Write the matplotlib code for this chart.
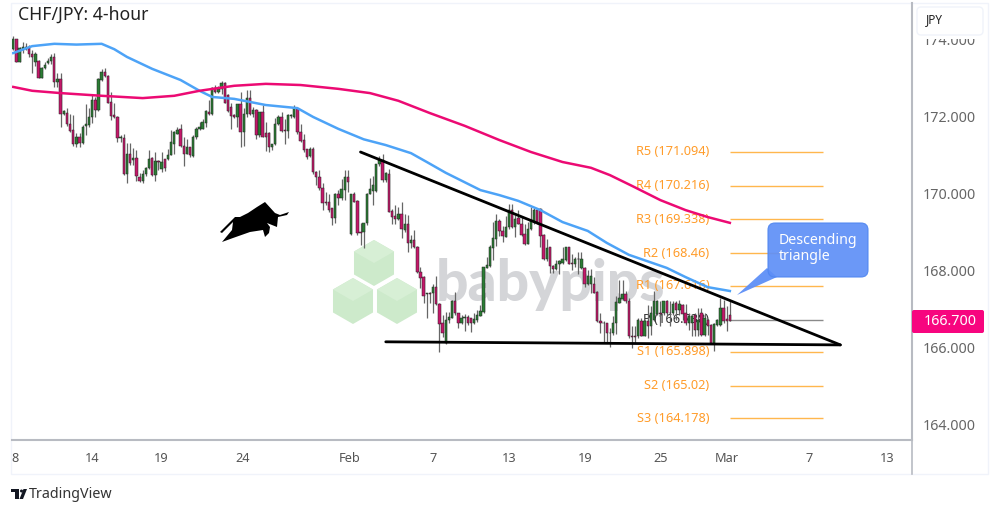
import matplotlib
matplotlib.use('Agg')
import matplotlib.pyplot as plt
from matplotlib.patches import FancyBboxPatch, Polygon, Rectangle, Circle

# 4-hour bars
opens = [173.77,174.03,173.44,173.76,173.77,173.81,173.64,173.44,173.45,173.02,
         173.26,173.39,173.45,173.55,172.92,172.98,172.07,172.11,171.81,171.66,
         171.30,171.49,171.32,171.77,171.79,172.01,172.44,172.18,172.96,173.16,
         173.07,172.40,172.05,172.00,171.45,171.45,170.51,171.04,170.87,170.94,
         170.45,170.34,170.51,170.67,170.94,170.49,170.86,170.65,170.91,170.92,
         171.01,171.31,171.57,171.68,171.25,171.05,171.21,170.99,171.47,171.69,
         171.70,171.85,172.14,172.07,172.74,172.64,172.73,172.87,172.57,172.27,
         172.05,172.01,172.33,171.62,172.07,172.48,172.09,172.18,171.53,172.12,
         171.59,171.59,171.23,171.29,171.83,172.01,171.66,171.63,172.02,172.01,
         172.21,171.62,171.40,171.16,170.99,171.18,170.58,170.45,170.16,169.78,
         169.78,169.63,169.37,170.00,169.89,170.10,170.45,168.95,170.00,169.82,
         169.02,169.02,169.24,170.00,170.08,170.08,170.78,170.88,170.36,170.52,
         169.56,169.43,169.35,169.49,169.06,169.21,168.72,168.80,168.63,167.98,
         167.85,167.39,167.43,167.42,167.59,167.14,166.64,166.13,166.72,166.78,
         167.22,166.90,166.64,166.77,166.81,166.77,166.64,166.72,166.84,166.94,
         168.09,168.13,168.60,168.84,169.29,169.03,168.89,169.13,169.58,169.13,
         169.38,169.23,168.95,168.71,169.08,169.28,169.58,169.62,168.93,168.30,
         168.61,168.13,168.06,168.17,168.21,168.28,168.63,168.21,168.18,168.30,
         168.08,168.08,167.66,167.65,167.67,167.46,166.70,166.66,166.64,166.38,
         166.40,166.64,167.18,167.27,167.41,167.23,166.32,166.32,166.30,166.71,
         166.32,166.69,166.56,166.73,166.88,166.92,166.90,167.21,166.92,166.90,
         167.18,166.99,167.12,166.92,166.64,166.64,166.86,166.47,166.90,166.34,
         166.73,166.60,166.12,166.60,166.60,167.03,166.75,166.86]
closes = [174.03,173.44,173.78,173.81,173.81,173.64,173.57,173.64,173.02,173.28,
          173.35,173.46,173.55,172.92,172.98,172.08,172.16,171.81,171.64,171.30,
          171.49,171.32,171.75,171.82,172.01,172.44,172.18,172.99,173.18,173.07,
          172.37,172.03,172.00,171.45,171.49,170.51,171.04,170.81,170.94,170.47,
          170.34,170.51,170.67,170.92,170.49,170.86,170.82,170.84,170.67,171.01,
          171.34,171.60,171.66,171.25,171.05,171.21,171.00,171.47,171.70,171.75,
          171.86,172.15,172.07,172.76,172.66,172.73,172.87,172.35,172.15,172.03,
          172.01,172.33,171.62,172.07,172.48,172.09,172.18,171.53,172.12,171.49,
          171.49,171.23,171.31,171.83,172.01,171.63,171.63,172.05,172.05,172.22,
          171.60,171.38,171.14,170.97,171.18,170.56,170.45,170.15,169.76,169.76,
          169.58,169.38,170.00,169.89,170.12,170.45,170.30,170.00,169.80,168.98,
          168.98,169.24,170.00,170.12,170.23,170.78,170.88,170.36,170.55,169.54,
          169.41,169.35,169.49,169.09,169.22,168.72,168.80,168.63,167.98,167.83,
          167.36,167.42,167.40,167.59,167.13,166.61,166.38,166.72,166.81,167.22,
          166.90,166.65,166.78,166.81,166.64,166.65,166.75,166.85,166.96,168.11,
          168.15,168.63,168.86,169.29,169.03,168.91,169.15,169.58,169.13,169.36,
          169.23,168.93,168.71,169.10,169.32,169.58,169.26,168.91,168.30,168.60,
          168.13,168.06,168.18,168.26,168.31,168.63,168.19,168.18,168.32,168.32,
          168.32,167.66,167.87,167.87,167.43,166.70,166.64,166.64,166.38,166.39,
          166.66,167.19,167.29,167.41,167.23,166.30,166.28,166.28,166.73,166.32,
          166.69,166.56,166.90,167.21,167.21,166.88,167.21,166.90,166.90,167.15,
          166.99,167.15,166.88,166.64,166.82,166.82,166.47,166.73,166.34,166.77,
          166.56,166.12,166.63,166.73,167.03,166.69,166.71,166.71]
highs = [174.09,174.03,173.83,173.94,173.91,173.87,173.74,173.70,173.48,173.31,
         173.44,173.52,173.64,173.65,173.13,173.15,172.18,172.22,172.09,172.05,
         171.58,171.58,171.79,172.34,172.22,172.57,172.53,173.02,173.24,173.26,
         173.09,172.66,172.35,172.03,171.53,171.56,171.32,171.32,171.19,171.14,
         170.54,170.62,170.71,171.14,170.97,171.10,170.88,171.08,170.92,171.17,
         171.66,171.64,171.75,171.83,171.49,171.44,171.23,171.53,171.75,171.86,
         171.96,172.18,172.44,172.79,172.83,172.81,172.93,172.92,172.59,172.35,
         172.07,172.33,172.66,172.22,172.70,172.70,172.27,172.21,172.14,172.31,
         171.88,171.62,171.31,171.98,172.05,172.14,171.96,172.07,172.09,172.31,
         172.24,171.83,171.57,171.18,171.23,171.23,170.60,170.62,170.28,170.06,
         170.01,169.63,170.02,170.10,170.40,170.62,170.62,170.00,170.06,169.84,
         169.24,169.24,170.02,170.42,170.47,170.78,170.98,171.05,170.58,170.66,
         169.62,169.71,169.65,169.78,169.49,169.45,168.93,169.06,168.65,168.11,
         167.87,167.42,167.46,167.65,167.88,167.16,166.85,166.94,166.94,167.24,
         167.46,166.91,166.85,166.88,166.85,166.77,166.90,166.98,167.11,168.11,
         168.37,168.67,169.28,169.47,169.35,169.17,169.43,169.75,169.73,169.45,
         169.58,169.41,169.23,169.28,169.67,169.64,169.62,169.64,168.95,168.84,
         168.63,168.15,168.28,168.28,168.63,168.63,168.63,168.45,168.35,168.48,
         168.48,168.11,168.02,168.06,167.85,167.48,166.90,166.70,166.66,166.51,
         166.82,167.35,167.77,167.77,167.47,167.29,166.56,166.56,166.77,166.77,
         166.73,167.12,167.08,167.47,167.25,167.23,167.23,167.25,167.21,167.23,
         167.21,167.25,167.15,167.15,166.90,166.86,166.90,167.03,167.03,166.90,
         166.75,166.63,166.66,166.75,167.29,167.25,167.08,167.21]
lows = [173.74,173.42,173.42,173.65,173.74,173.57,173.15,173.33,173.00,173.00,
        173.24,173.37,173.37,172.77,172.77,171.75,172.05,171.77,171.62,171.25,
        171.23,171.23,171.30,171.53,171.75,171.84,171.99,172.16,172.94,173.05,
        172.35,171.92,171.97,171.36,171.36,170.49,170.29,170.75,170.75,170.34,
        170.32,170.28,170.47,170.65,170.47,170.34,170.62,170.58,170.60,170.88,
        171.01,171.05,171.55,171.23,170.73,171.03,170.97,170.97,171.44,171.66,
        171.69,171.75,172.05,172.05,172.61,172.61,172.59,172.35,172.14,171.68,
        171.98,171.75,171.23,171.25,172.01,172.05,172.01,171.44,171.49,171.49,
        171.12,171.10,171.14,171.27,171.79,171.62,171.29,171.46,171.98,171.98,
        171.57,171.36,171.10,170.92,170.95,170.53,170.23,170.10,169.58,169.71,
        169.54,169.19,169.24,169.71,169.84,169.84,170.04,168.93,169.78,168.93,
        168.67,168.59,169.19,169.99,169.71,170.06,170.72,170.32,170.32,169.54,
        169.23,169.23,169.32,168.85,169.02,168.50,168.60,168.60,167.96,167.55,
        167.16,166.78,167.16,166.91,167.11,165.90,166.29,166.10,166.64,166.77,
        166.85,166.51,166.62,166.45,166.59,166.42,166.62,166.68,166.83,166.92,
        168.07,168.11,168.28,168.65,168.90,168.76,168.87,169.10,169.12,168.89,
        169.21,168.91,168.67,168.69,169.06,169.23,169.23,168.63,168.28,168.26,
        167.96,167.96,168.02,167.93,168.19,168.26,168.17,168.02,168.11,167.91,
        168.06,167.59,167.63,167.44,167.42,166.68,166.40,166.12,166.12,166.03,
        166.34,166.37,167.16,167.25,167.18,166.25,165.99,166.12,166.27,166.30,
        166.30,166.25,166.34,166.69,166.86,166.56,166.86,166.86,166.56,166.86,
        166.73,166.86,166.73,166.60,166.47,166.30,166.30,166.30,166.32,166.30,
        166.34,166.12,165.91,166.58,166.56,166.64,166.43,166.69]

# moving averages
blue_idx = [0,6,13,20,28,32,36,44,53,59,63,70,80,90,95,103,111,118,126,131,137,148,154,160,167,174,182,188,195,207,213,220,227]
blue_val = [173.66,173.84,173.90,173.88,173.90,173.76,173.56,173.25,172.96,172.68,172.52,172.47,172.31,172.23,172.00,171.69,171.42,171.27,171.06,170.83,170.55,170.10,169.97,169.82,169.58,169.27,169.04,168.73,168.42,168.08,167.84,167.58,167.48]
pink_idx = [0,6,15,28,41,51,59,70,80,91,103,113,122,132,143,154,164,174,183,189,196,205,213,220,227]
pink_val = [172.78,172.68,172.62,172.55,172.49,172.55,172.68,172.81,172.86,172.83,172.73,172.62,172.42,172.10,171.77,171.40,171.09,170.83,170.68,170.49,170.21,169.84,169.58,169.40,169.25]

pivot_names = ['R5','R4','R3','R2','R1','S1','S2','S3']
pivot_text = ['171.094','170.216','169.338','168.46','167.616','165.898','165.02','164.178']
pivot_point = 166.738
last_price = 166.7

# trend lines drawn on the chart
upper_line = ([110, 262], [171.09, 166.08])
lower_line = ([118, 262], [166.16, 166.08])

x_ticks = [0.5,25,46.8,72.8,106.6,133,157,181,205,226,252,276.8]
x_labels = ['8','14','19','24','Feb','7','13','19','25','Mar','7','13']
y_ticks = [164,166,168,170,172,174]

plt.rcParams['font.family'] = ['Noto Sans', 'DejaVu Sans']
fig = plt.figure(figsize=(10, 5.14), dpi=100)

# pixel layers under and over the chart, for watermark, callout and logos
under = fig.add_axes([0, 0, 1, 1], zorder=0)
under.set_xlim(0, 1000)
under.set_ylim(514, 0)
under.axis('off')
over = fig.add_axes([0, 0, 1, 1], zorder=3)
over.set_xlim(0, 1000)
over.set_ylim(514, 0)
over.axis('off')

ax = fig.add_axes([12/1000, (514-440)/514, 900/1000, 437/514], zorder=2)
ax.patch.set_alpha(0)
ax.set_xlim(-0.4, 284.7)
ax.set_ylim(163.61, 174.96)

# outer frame
under.add_patch(Rectangle((11, 3), 977, 471, fc='white', ec='#f0f3fa', lw=1))


def hexagon(cx, cy, r=23):
    pts = [(cx, cy-r), (cx+r*0.87, cy-r/2), (cx+r*0.87, cy+r/2), (cx, cy+r), (cx-r*0.87, cy+r/2), (cx-r*0.87, cy-r/2)]
    under.add_patch(Polygon(pts, fc='#cdeacb', ec='none'))
    under.add_patch(Polygon([pts[0], pts[1], (cx, cy), pts[5]], fc='#d7efd5', ec='none'))


hexagon(374, 263)
hexagon(353, 301)
hexagon(397, 301)
under.text(436, 301, 'babypips', fontsize=41, fontweight='black', color='#d4d5d8', family='Lato', va='baseline')

# candles
n = len(opens)
xs = list(range(n))
wick_cols = ['#666666' for _ in xs]
body_cols = ['#2b7d34' if closes[i] >= opens[i] else '#c4186a' for i in xs]
ax.text(220.5, pivot_point, 'P (166.738)', ha='right', va='center', fontsize=9.2, color='#333333', zorder=1)
ax.vlines(xs, lows, highs, colors=wick_cols, lw=0.9, zorder=3)
ax.bar(xs, [abs(closes[i]-opens[i]) for i in xs], bottom=[min(opens[i], closes[i]) for i in xs],
       width=0.75, color=body_cols, edgecolor='#222222', linewidth=0.35, zorder=4)

ax.plot(blue_idx, blue_val, color='#4da3f7', lw=1.8, zorder=5)
ax.plot(pink_idx, pink_val, color='#ec0a73', lw=1.8, zorder=5)

# pivot levels
levels = [float(t) for t in pivot_text]
ax.hlines(levels, 227, 256.5, colors='#ffb74d', lw=1, zorder=2)
ax.hlines([pivot_point], 227, 256.5, colors='#8a8a8a', lw=1, zorder=2)
for name, txt, lev in zip(pivot_names, pivot_text, levels):
    ax.text(220.5, lev, f'{name} ({txt})', ha='right', va='center', fontsize=9.2, color='#ff9c2a', zorder=2)

ax.plot(*upper_line, color='black', lw=2, zorder=6, solid_capstyle='round')
ax.plot(*lower_line, color='black', lw=2, zorder=6, solid_capstyle='round')

# axes
ax.yaxis.tick_right()
ax.set_yticks(y_ticks)
ax.set_yticklabels([f'{v:.3f}' for v in y_ticks])
ax.set_xticks(x_ticks)
ax.set_xticklabels(x_labels)
ax.tick_params(axis='y', length=0, pad=8, labelsize=10.3, labelcolor='#666666')
ax.tick_params(axis='x', length=0, pad=9, labelsize=9.2, labelcolor='#555555')
ax.spines['top'].set_visible(False)
ax.spines['left'].set_visible(False)
ax.spines['right'].set_color('#b8bbc2')
ax.spines['bottom'].set_color('#b8bbc2')
ax.spines['right'].set_linewidth(1.5)
ax.spines['bottom'].set_linewidth(1.5)
# price axis separator runs down to the frame
over.plot([912, 912], [440, 474], color='#b8bbc2', lw=1.2)

# title
over.text(18, 15, 'CHF/JPY: 4-hour', fontsize=12.7, color='#222222', va='center')

# currency box and last price tag; the box hides the top of the 174.000 label
over.add_patch(Rectangle((915, 5), 70, 34, fc='white', ec='none'))
over.add_patch(FancyBboxPatch((917, 7), 66, 28, boxstyle='round,pad=0,rounding_size=4', fc='white', ec='#f0f3fa', lw=1))
over.text(926, 20, 'JPY', fontsize=8.5, color='#222222', va='center')
over.add_patch(FancyBboxPatch((912, 310), 72, 23, boxstyle='round,pad=0,rounding_size=2', fc='#f7057f', ec='none'))
over.text(950, 321.5, f'{last_price:.3f}', fontsize=10.3, color='white', ha='center', va='center', fontweight='medium')

# callout
over.add_patch(Polygon([(767, 268), (737, 295), (777, 277)], fc='#5e8ff7', ec='none', alpha=0.95))
over.add_patch(FancyBboxPatch((768, 223), 100, 54, boxstyle='round,pad=0,rounding_size=7', fc='#5e8ff7', ec='#4f86f0', lw=0.8, alpha=0.92))
over.text(779, 241, 'Descending', fontsize=10.2, color='white', va='center')
over.text(779, 257, 'triangle', fontsize=10.2, color='white', va='center')

# bull silhouette
bull = [(289, 212), (280, 215), (275, 213), (265, 202), (257, 207), (248, 213), (240, 217), (235, 217),
        (220, 232), (222, 233), (233, 222), (232, 230), (222, 242), (233, 238), (250, 232), (263, 230),
        (265, 237), (269, 233), (270, 227), (267, 223), (277, 227), (278, 217), (287, 215)]
over.add_patch(Polygon(bull, fc='black', ec='none'))

# TradingView logo
over.add_patch(Rectangle((11, 489), 8, 3, fc='#131722', ec='none'))
over.add_patch(Rectangle((15, 489), 4, 10, fc='#131722', ec='none'))
over.add_patch(Circle((21.5, 491), 1.5, fc='#131722', ec='none'))
over.add_patch(Polygon([(23, 499), (19.5, 499), (23.5, 489), (27, 489)], fc='#131722', ec='none'))
over.text(29, 494.5, 'TradingView', fontsize=10.3, color='#333333', va='center')

fig.savefig('out.png', dpi=100)
